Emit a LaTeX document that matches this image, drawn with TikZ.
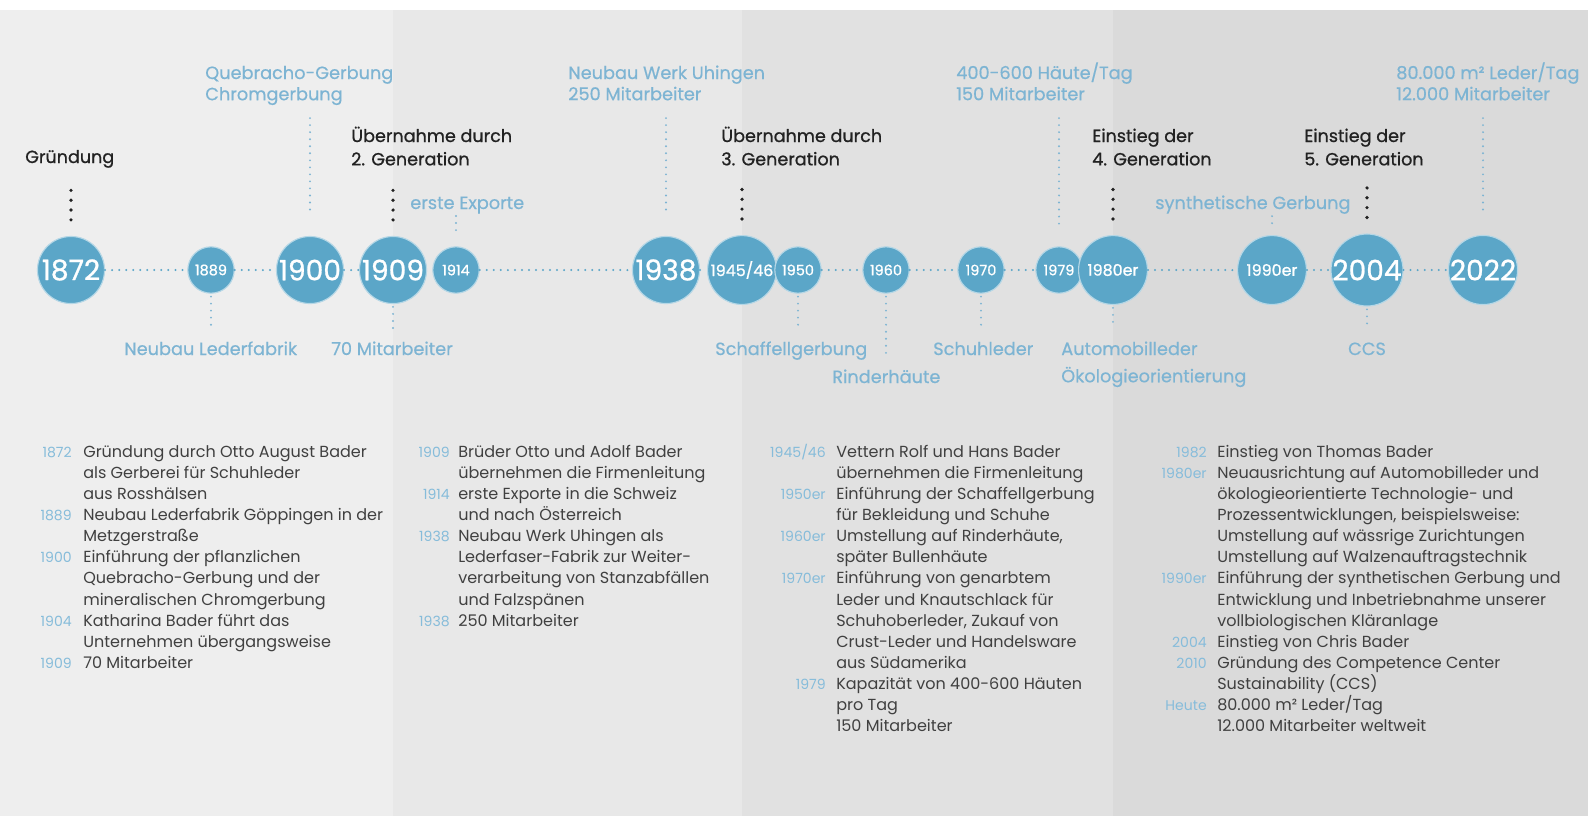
\documentclass[tikz,border=0pt]{standalone}
\usepackage{fontspec}
\setmainfont{Poppins}
\newfontfamily\heavyfont[FakeBold=0.9]{Poppins}
\newfontfamily\midfont[FakeBold=0.5]{Poppins}
\usetikzlibrary{calc}

\definecolor{bandA}{HTML}{EEEEEE}
\definecolor{bandB}{HTML}{E8E8E8}
\definecolor{bandC}{HTML}{E1E1E1}
\definecolor{bandD}{HTML}{DADADA}
\definecolor{yearblue}{HTML}{5BA6C8}
\definecolor{noteblue}{HTML}{7DB4D3}
\definecolor{gentext}{HTML}{222222}
\definecolor{bodytext}{HTML}{404040}
\definecolor{histblue}{HTML}{86BCDA}

% lines of a label, first baseline = node base
\newcommand{\labelrows}[1]{\begin{tabular}[t]{@{}l@{}}#1\end{tabular}}

\tikzset{
  yearbig/.style={circle, fill=yearblue, draw=white!55!yearblue, line width=0.8pt,
    minimum size=47.7pt, inner sep=0pt, text=white, font=\heavyfont\fontsize{20}{20}\selectfont},
  yearmid/.style={yearbig, minimum size=49pt, font=\heavyfont\fontsize{11.3}{11.3}\selectfont},
  yearsmall/.style={yearbig, minimum size=33pt, font=\heavyfont\fontsize{10.3}{10.3}\selectfont},
  genlabel/.style={anchor=base west, inner sep=0pt, text=gentext,
    font=\heavyfont\fontsize{12.5}{16.6}\selectfont},
  notelabel/.style={anchor=base west, inner sep=0pt, text=noteblue,
    font=\midfont\fontsize{12.6}{15.1}\selectfont},
  histyear/.style={anchor=base east, inner sep=0pt, text=histblue,
    font=\fontsize{10}{15.05}\selectfont},
  histtext/.style={anchor=base west, inner sep=0pt, text=bodytext,
    font=\fontsize{11.4}{15.05}\selectfont},
  linedots/.style={draw=yearblue, line width=1.6pt, line cap=round, dash pattern=on 0pt off 5pt},
  bluedots/.style={draw=noteblue, line width=1.5pt, line cap=round, dash pattern=on 0pt off 5pt},
  gendots/.style={draw=gentext, line width=2.6pt, line cap=round, dash pattern=on 0pt off 7pt},
  topdots/.style={bluedots, shorten <=8pt, shorten >=16pt},
  neardots/.style={bluedots, shorten <=1.5pt, shorten >=8pt},
  lowdots/.style={bluedots, shorten <=2pt, shorten >=9pt}
}

\begin{document}
\begin{tikzpicture}[x=0.25mm, y=-0.25mm]
  \useasboundingbox (0,0) rectangle (1588,816);
  % background bands
  \fill[white] (0,0) rectangle (1588,816);
  \fill[bandA] (0,10) rectangle (393,816);
  \fill[bandB] (393,10) rectangle (742,816);
  \fill[bandC] (742,10) rectangle (1113,816);
  \fill[bandD] (1113,10) rectangle (1588,816);

  % timeline
  \node[yearbig]   (y1872)   at (71,270)   {1872};
  \node[yearsmall] (y1889)   at (211,270)  {1889};
  \node[yearbig]   (y1900)   at (310,270)  {1900};
  \node[yearsmall] (y1914)   at (456,270)  {1914};
  \node[yearbig]   (y1909)   at (393,270)  {1909};
  \node[yearbig]   (y1938)   at (666,270)  {1938};
  \node[yearmid]   (y1945)   at (742,270)  {1945/46};
  \node[yearsmall] (y1950)   at (798,270)  {1950};
  \node[yearsmall] (y1960)   at (886,270)  {1960};
  \node[yearsmall] (y1970)   at (981,270)  {1970};
  \node[yearsmall] (y1979)   at (1059,270) {1979};
  \node[yearmid]   (y1980er) at (1113,270) {1980er};
  \node[yearmid]   (y1990er) at (1272,270) {1990er};
  \node[yearbig]   (y2004)   at (1367,270) {2004};
  \node[yearbig]   (y2022)   at (1483,270) {2022};
  \foreach \a/\b in {1872/1889, 1889/1900, 1900/1909, 1914/1938, 1938/1945, 1950/1960,
                     1960/1970, 1970/1979, 1980er/1990er, 1990er/2004, 2004/2022}
    \draw[linedots] (y\a) -- (y\b);

  % labels above
  \node[genlabel]  (g1872) at (25,163)   {Gründung};
  \node[notelabel] (q1900) at (205,79)   {\labelrows{Quebracho-Gerbung\\Chromgerbung}};
  \node[genlabel]  (g1909) at (351,142)  {\labelrows{Übernahme durch\\2. Generation}};
  \node[notelabel] (e1914) at (410,209)  {erste Exporte};
  \node[notelabel] (w1938) at (568,79)   {\labelrows{Neubau Werk Uhingen\\250 Mitarbeiter}};
  \node[genlabel]  (g1945) at (721,142)  {\labelrows{Übernahme durch\\3. Generation}};
  \node[notelabel] (k1979) at (956,79)   {\labelrows{400-600 Häute/Tag\\150 Mitarbeiter}};
  \node[genlabel]  (g1980) at (1092,142) {\labelrows{Einstieg der\\4. Generation}};
  \node[notelabel] (v1990) at (1155,209) {synthetische Gerbung};
  \node[genlabel]  (g2004) at (1304,142) {\labelrows{Einstieg der\\5. Generation}};
  \node[notelabel] (t2022) at (1396,79)  {\labelrows{80.000 m² Leder/Tag\\12.000 Mitarbeiter}};
  % labels below
  \node[notelabel] (n1889) at (124,355)  {Neubau Lederfabrik};
  \node[notelabel] (m1909) at (331,355)  {70 Mitarbeiter};
  \node[notelabel] (s1950) at (715,355)  {Schaffellgerbung};
  \node[notelabel] (r1960) at (832,383)  {Rinderhäute};
  \node[notelabel] (h1970) at (933,355)  {Schuhleder};
  \node[notelabel, font=\midfont\fontsize{12.6}{19.4}\selectfont] (a1980) at (1061,355)
    {\labelrows{Automobilleder\\Ökologieorientierung}};
  \node[notelabel, anchor=base] (c2004) at (1367,355) {CCS};

  % four black dots under each generation label
  \foreach \y in {y1872, y1909, y1945, y1980er, y2004}
    \draw[gendots] (\y.north) ++(0,-16) -- ++(0,-30);
  \foreach \l/\y in {q1900/y1900, w1938/y1938, k1979/y1979, t2022/y2022}
    \draw[topdots] (\l.south -| \y) -- (\y.north);
  \draw[neardots] (e1914.south -| y1914) -- (y1914.north);
  \draw[neardots] (v1990.south -| y1990er) -- (y1990er.north);
  \foreach \l/\y in {n1889/y1889, m1909/y1909, s1950/y1950, r1960/y1960, h1970/y1970,
                     a1980/y1980er, c2004/y2004}
    \draw[lowdots] (\y.south) -- (\l.north -| \y);

  % history columns
  \foreach \row/\yr/\txt in {
      0/1872/{Gründung durch Otto August Bader\\als Gerberei für Schuhleder\\aus Rosshälsen},
      3/1889/{Neubau Lederfabrik Göppingen in der\\Metzgerstraße},
      5/1900/{Einführung der pflanzlichen\\Quebracho-Gerbung und der\\mineralischen Chromgerbung},
      8/1904/{Katharina Bader führt das\\Unternehmen übergangsweise},
      10/1909/{70 Mitarbeiter}} {
    \node[histyear] (ya\row) at (72,{457+21.15*\row}) {\yr};
    \node[histtext] (ta\row) at (83,{457+21.15*\row}) {\labelrows{\txt}};
  }
  \foreach \row/\yr/\txt in {
      0/1909/{Brüder Otto und Adolf Bader\\übernehmen die Firmenleitung},
      2/1914/{erste Exporte in die Schweiz\\und nach Österreich},
      4/1938/{Neubau Werk Uhingen als\\Lederfaser-Fabrik zur Weiter-\\verarbeitung von Stanzabfällen\\und Falzspänen},
      8/1938/{250 Mitarbeiter}} {
    \node[histyear] (yb\row) at (450,{457+21.15*\row}) {\yr};
    \node[histtext] (tb\row) at (458,{457+21.15*\row}) {\labelrows{\txt}};
  }
  \foreach \row/\yr/\txt in {
      0/1945\slash46/{Vettern Rolf und Hans Bader\\übernehmen die Firmenleitung},
      2/1950er/{Einführung der Schaffellgerbung\\für Bekleidung und Schuhe},
      4/1960er/{Umstellung auf Rinderhäute,\\später Bullenhäute},
      6/1970er/{Einführung von genarbtem\\Leder und Knautschlack für\\Schuhoberleder, Zukauf von\\Crust-Leder und Handelsware\\aus Südamerika},
      11/1979/{Kapazität von 400-600 Häuten\\pro Tag\\150 Mitarbeiter}} {
    \node[histyear] (yc\row) at (826,{457+21.15*\row}) {\yr};
    \node[histtext] (tc\row) at (836,{457+21.15*\row}) {\labelrows{\txt}};
  }
  \foreach \row/\yr/\txt in {
      0/1982/{Einstieg von Thomas Bader},
      1/1980er/{Neuausrichtung auf Automobilleder und\\ökologieorientierte Technologie- und\\Prozessentwicklungen, beispielsweise:\\Umstellung auf wässrige Zurichtungen\\Umstellung auf Walzenauftragstechnik},
      6/1990er/{Einführung der synthetischen Gerbung und\\Entwicklung und Inbetriebnahme unserer\\vollbiologischen Kläranlage},
      9/2004/{Einstieg von Chris Bader},
      10/2010/{Gründung des Competence Center\\Sustainability (CCS)},
      12/Heute/{80.000 m² Leder/Tag\\12.000 Mitarbeiter weltweit}} {
    \node[histyear] (yd\row) at (1207,{457+21.15*\row}) {\yr};
    \node[histtext] (td\row) at (1217,{457+21.15*\row}) {\labelrows{\txt}};
  }
\end{tikzpicture}
\end{document}
